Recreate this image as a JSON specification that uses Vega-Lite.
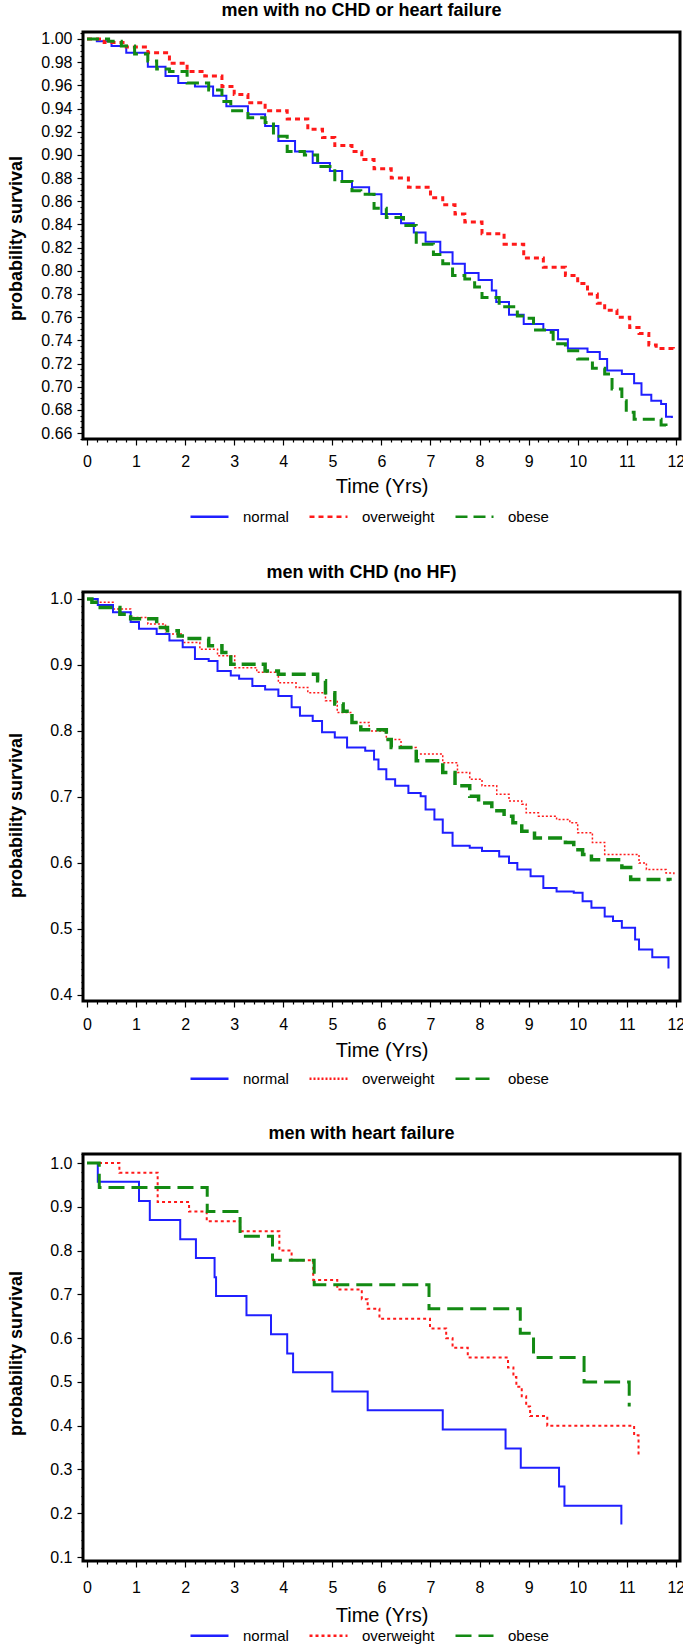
{
  "$schema": "https://vega.github.io/schema/vega-lite/v6.json",
  "background": "white",
  "padding": {"left": 5, "top": 0, "right": 2, "bottom": 0},
  "spacing": 153,
  "bounds": "flush",
  "config": {
    "font": "Liberation Sans",
    "view": {"stroke": "black", "strokeWidth": 3},
    "axis": {
      "domain": false, "grid": false, "tickColor": "black", "tickWidth": 1.2,
      "labelColor": "black", "titleColor": "black", "labelFont": "Liberation Sans",
      "labelOverlap": false, "labelFlush": false, "labelBound": false,
      "titleFont": "Liberation Sans"
    },
    "legend": {
      "orient": "none", "direction": "horizontal", "title": null,
      "symbolType": "stroke", "symbolSize": 1444, "symbolStrokeWidth": 2.5,
      "labelFontSize": 15, "labelFont": "Liberation Sans", "labelColor": "black",
      "labelOffset": 13, "columnPadding": 15
    },
    "title": {"font": "Liberation Sans", "fontSize": 18, "fontWeight": "bold", "color": "black", "anchor": "middle", "frame": "group", "baseline": "alphabetic", "dx": -20}
  },
  "resolve": {"scale": {"x": "independent", "y": "independent", "color": "independent", "strokeDash": "independent"}},
  "datasets": {
    "p1": [
      {"g":"normal","t":0,"s":1.0},{"g":"normal","t":0.2,"s":0.998},{"g":"normal","t":0.5,"s":0.994},{"g":"normal","t":0.8,"s":0.988},{"g":"normal","t":1.24,"s":0.976},{"g":"normal","t":1.6,"s":0.968},{"g":"normal","t":1.86,"s":0.962},{"g":"normal","t":2.2,"s":0.959},{"g":"normal","t":2.57,"s":0.951},{"g":"normal","t":2.84,"s":0.942},{"g":"normal","t":3.28,"s":0.935},{"g":"normal","t":3.63,"s":0.925},{"g":"normal","t":3.9,"s":0.912},{"g":"normal","t":4.24,"s":0.903},{"g":"normal","t":4.6,"s":0.893},{"g":"normal","t":4.95,"s":0.886},{"g":"normal","t":5.2,"s":0.877},{"g":"normal","t":5.4,"s":0.872},{"g":"normal","t":5.75,"s":0.866},{"g":"normal","t":6.0,"s":0.849},{"g":"normal","t":6.4,"s":0.841},{"g":"normal","t":6.66,"s":0.833},{"g":"normal","t":6.9,"s":0.825},{"g":"normal","t":7.2,"s":0.816},{"g":"normal","t":7.45,"s":0.806},{"g":"normal","t":7.7,"s":0.798},{"g":"normal","t":7.98,"s":0.792},{"g":"normal","t":8.25,"s":0.783},{"g":"normal","t":8.34,"s":0.773},{"g":"normal","t":8.6,"s":0.762},{"g":"normal","t":8.9,"s":0.754},{"g":"normal","t":9.3,"s":0.749},{"g":"normal","t":9.6,"s":0.741},{"g":"normal","t":9.8,"s":0.733},{"g":"normal","t":10.2,"s":0.73},{"g":"normal","t":10.45,"s":0.724},{"g":"normal","t":10.6,"s":0.714},{"g":"normal","t":10.9,"s":0.711},{"g":"normal","t":11.15,"s":0.703},{"g":"normal","t":11.3,"s":0.693},{"g":"normal","t":11.5,"s":0.688},{"g":"normal","t":11.7,"s":0.685},{"g":"normal","t":11.8,"s":0.674},{"g":"normal","t":11.92,"s":0.673},
      {"g":"overweight","t":0,"s":1.0},{"g":"overweight","t":0.35,"s":0.997},{"g":"overweight","t":0.8,"s":0.993},{"g":"overweight","t":1.24,"s":0.988},{"g":"overweight","t":1.68,"s":0.979},{"g":"overweight","t":2.04,"s":0.972},{"g":"overweight","t":2.4,"s":0.968},{"g":"overweight","t":2.75,"s":0.959},{"g":"overweight","t":3.0,"s":0.952},{"g":"overweight","t":3.28,"s":0.945},{"g":"overweight","t":3.63,"s":0.938},{"g":"overweight","t":4.08,"s":0.931},{"g":"overweight","t":4.5,"s":0.922},{"g":"overweight","t":4.8,"s":0.915},{"g":"overweight","t":5.05,"s":0.908},{"g":"overweight","t":5.4,"s":0.903},{"g":"overweight","t":5.6,"s":0.896},{"g":"overweight","t":5.85,"s":0.888},{"g":"overweight","t":6.2,"s":0.88},{"g":"overweight","t":6.55,"s":0.872},{"g":"overweight","t":7.0,"s":0.863},{"g":"overweight","t":7.25,"s":0.857},{"g":"overweight","t":7.5,"s":0.849},{"g":"overweight","t":7.7,"s":0.842},{"g":"overweight","t":8.05,"s":0.832},{"g":"overweight","t":8.5,"s":0.823},{"g":"overweight","t":8.9,"s":0.811},{"g":"overweight","t":9.3,"s":0.803},{"g":"overweight","t":9.75,"s":0.796},{"g":"overweight","t":10.0,"s":0.789},{"g":"overweight","t":10.2,"s":0.78},{"g":"overweight","t":10.4,"s":0.772},{"g":"overweight","t":10.55,"s":0.766},{"g":"overweight","t":10.8,"s":0.76},{"g":"overweight","t":11.06,"s":0.751},{"g":"overweight","t":11.25,"s":0.746},{"g":"overweight","t":11.45,"s":0.736},{"g":"overweight","t":11.6,"s":0.733},{"g":"overweight","t":11.95,"s":0.732},
      {"g":"obese","t":0,"s":1.0},{"g":"obese","t":0.44,"s":0.998},{"g":"obese","t":0.7,"s":0.994},{"g":"obese","t":0.97,"s":0.987},{"g":"obese","t":1.24,"s":0.981},{"g":"obese","t":1.42,"s":0.974},{"g":"obese","t":1.68,"s":0.972},{"g":"obese","t":2.04,"s":0.962},{"g":"obese","t":2.48,"s":0.956},{"g":"obese","t":2.75,"s":0.946},{"g":"obese","t":2.93,"s":0.938},{"g":"obese","t":3.28,"s":0.932},{"g":"obese","t":3.63,"s":0.928},{"g":"obese","t":3.8,"s":0.916},{"g":"obese","t":4.08,"s":0.903},{"g":"obese","t":4.43,"s":0.9},{"g":"obese","t":4.7,"s":0.89},{"g":"obese","t":5.05,"s":0.877},{"g":"obese","t":5.4,"s":0.869},{"g":"obese","t":5.58,"s":0.866},{"g":"obese","t":5.85,"s":0.854},{"g":"obese","t":6.1,"s":0.846},{"g":"obese","t":6.45,"s":0.839},{"g":"obese","t":6.71,"s":0.823},{"g":"obese","t":7.06,"s":0.814},{"g":"obese","t":7.25,"s":0.806},{"g":"obese","t":7.45,"s":0.796},{"g":"obese","t":7.7,"s":0.793},{"g":"obese","t":7.9,"s":0.786},{"g":"obese","t":8.05,"s":0.777},{"g":"obese","t":8.4,"s":0.769},{"g":"obese","t":8.77,"s":0.761},{"g":"obese","t":8.95,"s":0.759},{"g":"obese","t":9.1,"s":0.749},{"g":"obese","t":9.4,"s":0.747},{"g":"obese","t":9.5,"s":0.737},{"g":"obese","t":9.75,"s":0.731},{"g":"obese","t":10.0,"s":0.724},{"g":"obese","t":10.3,"s":0.716},{"g":"obese","t":10.55,"s":0.711},{"g":"obese","t":10.7,"s":0.698},{"g":"obese","t":10.9,"s":0.688},{"g":"obese","t":10.99,"s":0.678},{"g":"obese","t":11.15,"s":0.672},{"g":"obese","t":11.6,"s":0.672},{"g":"obese","t":11.7,"s":0.667},{"g":"obese","t":11.8,"s":0.662}
    ],
    "p2": [
      {"g":"normal","t":0,"s":1.0},{"g":"normal","t":0.22,"s":0.991},{"g":"normal","t":0.53,"s":0.98},{"g":"normal","t":0.89,"s":0.965},{"g":"normal","t":1.06,"s":0.955},{"g":"normal","t":1.42,"s":0.947},{"g":"normal","t":1.68,"s":0.937},{"g":"normal","t":1.95,"s":0.927},{"g":"normal","t":2.2,"s":0.909},{"g":"normal","t":2.48,"s":0.906},{"g":"normal","t":2.66,"s":0.891},{"g":"normal","t":2.93,"s":0.884},{"g":"normal","t":3.1,"s":0.879},{"g":"normal","t":3.37,"s":0.868},{"g":"normal","t":3.63,"s":0.863},{"g":"normal","t":3.9,"s":0.853},{"g":"normal","t":4.17,"s":0.836},{"g":"normal","t":4.34,"s":0.823},{"g":"normal","t":4.6,"s":0.815},{"g":"normal","t":4.79,"s":0.798},{"g":"normal","t":5.05,"s":0.79},{"g":"normal","t":5.3,"s":0.775},{"g":"normal","t":5.67,"s":0.77},{"g":"normal","t":5.85,"s":0.757},{"g":"normal","t":5.94,"s":0.742},{"g":"normal","t":6.1,"s":0.727},{"g":"normal","t":6.28,"s":0.717},{"g":"normal","t":6.55,"s":0.706},{"g":"normal","t":6.8,"s":0.701},{"g":"normal","t":6.9,"s":0.681},{"g":"normal","t":7.08,"s":0.666},{"g":"normal","t":7.25,"s":0.646},{"g":"normal","t":7.45,"s":0.626},{"g":"normal","t":7.8,"s":0.623},{"g":"normal","t":8.05,"s":0.618},{"g":"normal","t":8.4,"s":0.61},{"g":"normal","t":8.6,"s":0.6},{"g":"normal","t":8.77,"s":0.59},{"g":"normal","t":9.04,"s":0.58},{"g":"normal","t":9.3,"s":0.562},{"g":"normal","t":9.57,"s":0.557},{"g":"normal","t":9.92,"s":0.555},{"g":"normal","t":10.1,"s":0.542},{"g":"normal","t":10.28,"s":0.532},{"g":"normal","t":10.55,"s":0.519},{"g":"normal","t":10.72,"s":0.512},{"g":"normal","t":10.9,"s":0.502},{"g":"normal","t":11.17,"s":0.484},{"g":"normal","t":11.25,"s":0.469},{"g":"normal","t":11.52,"s":0.457},{"g":"normal","t":11.85,"s":0.44},
      {"g":"overweight","t":0,"s":1.0},{"g":"overweight","t":0.18,"s":0.995},{"g":"overweight","t":0.53,"s":0.985},{"g":"overweight","t":0.89,"s":0.972},{"g":"overweight","t":1.24,"s":0.962},{"g":"overweight","t":1.6,"s":0.947},{"g":"overweight","t":1.95,"s":0.934},{"g":"overweight","t":2.3,"s":0.924},{"g":"overweight","t":2.66,"s":0.914},{"g":"overweight","t":3.01,"s":0.896},{"g":"overweight","t":3.46,"s":0.889},{"g":"overweight","t":3.9,"s":0.873},{"g":"overweight","t":4.26,"s":0.866},{"g":"overweight","t":4.5,"s":0.858},{"g":"overweight","t":4.86,"s":0.846},{"g":"overweight","t":5.1,"s":0.828},{"g":"overweight","t":5.4,"s":0.813},{"g":"overweight","t":5.75,"s":0.8},{"g":"overweight","t":6.1,"s":0.787},{"g":"overweight","t":6.4,"s":0.775},{"g":"overweight","t":6.71,"s":0.765},{"g":"overweight","t":7.25,"s":0.752},{"g":"overweight","t":7.55,"s":0.737},{"g":"overweight","t":7.8,"s":0.727},{"g":"overweight","t":8.05,"s":0.717},{"g":"overweight","t":8.35,"s":0.704},{"g":"overweight","t":8.6,"s":0.694},{"g":"overweight","t":8.86,"s":0.689},{"g":"overweight","t":8.95,"s":0.676},{"g":"overweight","t":9.2,"s":0.671},{"g":"overweight","t":9.57,"s":0.666},{"g":"overweight","t":9.84,"s":0.661},{"g":"overweight","t":10.0,"s":0.646},{"g":"overweight","t":10.3,"s":0.631},{"g":"overweight","t":10.55,"s":0.613},{"g":"overweight","t":11.25,"s":0.6},{"g":"overweight","t":11.4,"s":0.59},{"g":"overweight","t":11.8,"s":0.585},{"g":"overweight","t":11.96,"s":0.583},
      {"g":"obese","t":0,"s":1.0},{"g":"obese","t":0.1,"s":0.995},{"g":"obese","t":0.27,"s":0.987},{"g":"obese","t":0.67,"s":0.977},{"g":"obese","t":0.89,"s":0.97},{"g":"obese","t":1.42,"s":0.957},{"g":"obese","t":1.64,"s":0.952},{"g":"obese","t":1.86,"s":0.944},{"g":"obese","t":2.04,"s":0.94},{"g":"obese","t":2.48,"s":0.929},{"g":"obese","t":2.75,"s":0.919},{"g":"obese","t":2.93,"s":0.901},{"g":"obese","t":3.63,"s":0.891},{"g":"obese","t":3.9,"s":0.886},{"g":"obese","t":4.7,"s":0.876},{"g":"obese","t":4.86,"s":0.858},{"g":"obese","t":5.05,"s":0.841},{"g":"obese","t":5.22,"s":0.83},{"g":"obese","t":5.4,"s":0.813},{"g":"obese","t":5.58,"s":0.802},{"g":"obese","t":6.1,"s":0.787},{"g":"obese","t":6.2,"s":0.775},{"g":"obese","t":6.71,"s":0.755},{"g":"obese","t":7.25,"s":0.737},{"g":"obese","t":7.5,"s":0.717},{"g":"obese","t":7.8,"s":0.701},{"g":"obese","t":7.98,"s":0.691},{"g":"obese","t":8.25,"s":0.679},{"g":"obese","t":8.5,"s":0.671},{"g":"obese","t":8.68,"s":0.661},{"g":"obese","t":8.86,"s":0.648},{"g":"obese","t":9.12,"s":0.638},{"g":"obese","t":9.75,"s":0.631},{"g":"obese","t":9.92,"s":0.62},{"g":"obese","t":10.1,"s":0.613},{"g":"obese","t":10.28,"s":0.605},{"g":"obese","t":10.9,"s":0.593},{"g":"obese","t":11.08,"s":0.575},{"g":"obese","t":11.88,"s":0.573}
    ],
    "p3": [
      {"g":"normal","t":0,"s":1.0},{"g":"normal","t":0.22,"s":0.957},{"g":"normal","t":1.06,"s":0.913},{"g":"normal","t":1.28,"s":0.87},{"g":"normal","t":1.9,"s":0.826},{"g":"normal","t":2.22,"s":0.783},{"g":"normal","t":2.6,"s":0.739},{"g":"normal","t":2.63,"s":0.696},{"g":"normal","t":3.25,"s":0.652},{"g":"normal","t":3.75,"s":0.609},{"g":"normal","t":4.08,"s":0.565},{"g":"normal","t":4.2,"s":0.522},{"g":"normal","t":5.0,"s":0.478},{"g":"normal","t":5.72,"s":0.435},{"g":"normal","t":7.25,"s":0.391},{"g":"normal","t":8.53,"s":0.348},{"g":"normal","t":8.84,"s":0.304},{"g":"normal","t":9.62,"s":0.261},{"g":"normal","t":9.73,"s":0.217},{"g":"normal","t":10.89,"s":0.174},
      {"g":"overweight","t":0,"s":1.0},{"g":"overweight","t":0.66,"s":0.978},{"g":"overweight","t":1.44,"s":0.911},{"g":"overweight","t":2.08,"s":0.889},{"g":"overweight","t":2.44,"s":0.867},{"g":"overweight","t":3.12,"s":0.844},{"g":"overweight","t":3.92,"s":0.8},{"g":"overweight","t":4.17,"s":0.778},{"g":"overweight","t":4.61,"s":0.733},{"g":"overweight","t":5.1,"s":0.711},{"g":"overweight","t":5.6,"s":0.689},{"g":"overweight","t":5.72,"s":0.667},{"g":"overweight","t":5.96,"s":0.644},{"g":"overweight","t":6.99,"s":0.622},{"g":"overweight","t":7.32,"s":0.6},{"g":"overweight","t":7.45,"s":0.578},{"g":"overweight","t":7.76,"s":0.556},{"g":"overweight","t":8.58,"s":0.533},{"g":"overweight","t":8.69,"s":0.511},{"g":"overweight","t":8.75,"s":0.489},{"g":"overweight","t":8.86,"s":0.467},{"g":"overweight","t":8.95,"s":0.444},{"g":"overweight","t":9.03,"s":0.422},{"g":"overweight","t":9.38,"s":0.4},{"g":"overweight","t":11.15,"s":0.378},{"g":"overweight","t":11.24,"s":0.33},
      {"g":"obese","t":0,"s":1.0},{"g":"obese","t":0.25,"s":0.944},{"g":"obese","t":2.45,"s":0.889},{"g":"obese","t":3.12,"s":0.833},{"g":"obese","t":3.78,"s":0.778},{"g":"obese","t":4.63,"s":0.722},{"g":"obese","t":6.97,"s":0.667},{"g":"obese","t":8.83,"s":0.611},{"g":"obese","t":9.1,"s":0.556},{"g":"obese","t":10.13,"s":0.5},{"g":"obese","t":11.05,"s":0.444}
    ]
  },
  "vconcat": [
    {
      "width": 597, "height": 407,
      "title": {"text": "men with no CHD or heart failure", "offset": 11},
      "data": {"name": "p1"},
      "encoding": {
        "x": {"field": "t", "type": "quantitative", "scale": {"domain": [-0.0815, 12.085], "nice": false, "zero": false},
          "axis": {"title": "Time (Yrs)", "tickCount": 60,
            "labelExpr": "abs(datum.value - round(datum.value)) < 0.001 ? format(datum.value, 'd') : ''",
            "labelFontSize": {"condition": {"test": "abs(datum.value - round(datum.value)) < 0.001", "value": 16}, "value": 0},
            "tickSize": {"condition": {"test": "abs(datum.value - round(datum.value)) < 0.001", "value": 6}, "value": 3},
            "labelPadding": 8, "titleFontSize": 20, "titleFontWeight": "normal", "titleY": 47, "titleBaseline": "middle"}},
        "y": {"field": "s", "type": "quantitative", "scale": {"domain": [0.6549, 1.006], "nice": false, "zero": false},
          "axis": {"title": "probability survival", "tickCount": 70,
            "labelExpr": "abs(datum.value*50 - round(datum.value*50)) < 0.001 ? format(datum.value, '.2f') : ''",
            "labelFontSize": {"condition": {"test": "abs(datum.value*50 - round(datum.value*50)) < 0.001", "value": 16}, "value": 0},
            "tickSize": {"condition": {"test": "abs(datum.value*50 - round(datum.value*50)) < 0.001", "value": 6}, "value": 3},
            "labelPadding": 5, "titleFontSize": 18, "titleFontWeight": "bold", "titleX": -58, "titleY": 206}},
        "color": {"field": "g", "type": "nominal", "scale": {"domain": ["normal", "overweight", "obese"], "range": ["#1f1fff", "#ff1a1a", "#138a13"]},
          "legend": {"legendX": 106, "legendY": 464}},
        "strokeDash": {"field": "g", "type": "nominal", "scale": {"domain": ["normal", "overweight", "obese"], "range": [[1, 0], [5, 4], [12, 6]]},
          "legend": {"legendX": 106, "legendY": 464}}
      },
      "layer": [
        {"transform": [{"filter": "datum.g == 'normal'"}], "mark": {"type": "line", "interpolate": "step-after", "strokeWidth": 2}},
        {"transform": [{"filter": "datum.g != 'normal'"}], "mark": {"type": "line", "interpolate": "step-after", "strokeWidth": 3}}
      ]
    },
    {
      "width": 597, "height": 409,
      "title": {"text": "men with CHD (no HF)", "offset": 9},
      "data": {"name": "p2"},
      "encoding": {
        "x": {"field": "t", "type": "quantitative", "scale": {"domain": [-0.0815, 12.085], "nice": false, "zero": false},
          "axis": {"title": "Time (Yrs)", "tickCount": 60,
            "labelExpr": "abs(datum.value - round(datum.value)) < 0.001 ? format(datum.value, 'd') : ''",
            "labelFontSize": {"condition": {"test": "abs(datum.value - round(datum.value)) < 0.001", "value": 16}, "value": 0},
            "tickSize": {"condition": {"test": "abs(datum.value - round(datum.value)) < 0.001", "value": 6}, "value": 3},
            "labelPadding": 9, "titleFontSize": 20, "titleFontWeight": "normal", "titleY": 49, "titleBaseline": "middle"}},
        "y": {"field": "s", "type": "quantitative", "scale": {"domain": [0.3909, 1.0106], "nice": false, "zero": false},
          "axis": {"title": "probability survival", "tickCount": 60,
            "labelExpr": "abs(datum.value*10 - round(datum.value*10)) < 0.001 ? format(datum.value, '.1f') : ''",
            "labelFontSize": {"condition": {"test": "abs(datum.value*10 - round(datum.value*10)) < 0.001", "value": 16}, "value": 0},
            "tickSize": {"condition": {"test": "abs(datum.value*10 - round(datum.value*10)) < 0.001", "value": 6}, "value": 2},
            "labelPadding": 5, "titleFontSize": 18, "titleFontWeight": "bold", "titleX": -58, "titleY": 223}},
        "color": {"field": "g", "type": "nominal", "scale": {"domain": ["normal", "overweight", "obese"], "range": ["#1f1fff", "#ff1a1a", "#138a13"]},
          "legend": {"legendX": 106, "legendY": 466}},
        "strokeDash": {"field": "g", "type": "nominal", "scale": {"domain": ["normal", "overweight", "obese"], "range": [[1, 0], [2, 2], [14, 6]]},
          "legend": {"legendX": 106, "legendY": 466}}
      },
      "layer": [
        {"transform": [{"filter": "datum.g == 'overweight'"}], "mark": {"type": "line", "interpolate": "step-after", "strokeWidth": 1.5}},
        {"transform": [{"filter": "datum.g == 'normal'"}], "mark": {"type": "line", "interpolate": "step-after", "strokeWidth": 2}},
        {"transform": [{"filter": "datum.g == 'obese'"}], "mark": {"type": "line", "interpolate": "step-after", "strokeWidth": 3.5}}
      ]
    },
    {
      "width": 597, "height": 407,
      "title": {"text": "men with heart failure", "offset": 10},
      "data": {"name": "p3"},
      "encoding": {
        "x": {"field": "t", "type": "quantitative", "scale": {"domain": [-0.0815, 12.085], "nice": false, "zero": false},
          "axis": {"title": "Time (Yrs)", "tickCount": 60,
            "labelExpr": "abs(datum.value - round(datum.value)) < 0.001 ? format(datum.value, 'd') : ''",
            "labelFontSize": {"condition": {"test": "abs(datum.value - round(datum.value)) < 0.001", "value": 16}, "value": 0},
            "tickSize": {"condition": {"test": "abs(datum.value - round(datum.value)) < 0.001", "value": 6}, "value": 3},
            "labelPadding": 12, "titleFontSize": 20, "titleFontWeight": "normal", "titleY": 54, "titleBaseline": "middle"}},
        "y": {"field": "s", "type": "quantitative", "scale": {"domain": [0.0909, 1.0206], "nice": false, "zero": false},
          "axis": {"title": "probability survival", "tickCount": 40,
            "labelExpr": "abs(datum.value*10 - round(datum.value*10)) < 0.001 ? format(datum.value, '.1f') : ''",
            "labelFontSize": {"condition": {"test": "abs(datum.value*10 - round(datum.value*10)) < 0.001", "value": 16}, "value": 0},
            "tickSize": {"condition": {"test": "abs(datum.value*10 - round(datum.value*10)) < 0.001", "value": 6}, "value": 2},
            "labelPadding": 5, "titleFontSize": 18, "titleFontWeight": "bold", "titleX": -58, "titleY": 199}},
        "color": {"field": "g", "type": "nominal", "scale": {"domain": ["normal", "overweight", "obese"], "range": ["#1f1fff", "#ff1a1a", "#138a13"]},
          "legend": {"legendX": 106, "legendY": 461}},
        "strokeDash": {"field": "g", "type": "nominal", "scale": {"domain": ["normal", "overweight", "obese"], "range": [[1, 0], [3, 3], [16, 7]]},
          "legend": {"legendX": 106, "legendY": 461}}
      },
      "layer": [
        {"transform": [{"filter": "datum.g == 'normal'"}], "mark": {"type": "line", "interpolate": "step-after", "strokeWidth": 2}},
        {"transform": [{"filter": "datum.g == 'overweight'"}], "mark": {"type": "line", "interpolate": "step-after", "strokeWidth": 2}},
        {"transform": [{"filter": "datum.g == 'obese'"}], "mark": {"type": "line", "interpolate": "step-after", "strokeWidth": 3}}
      ]
    }
  ]
}
